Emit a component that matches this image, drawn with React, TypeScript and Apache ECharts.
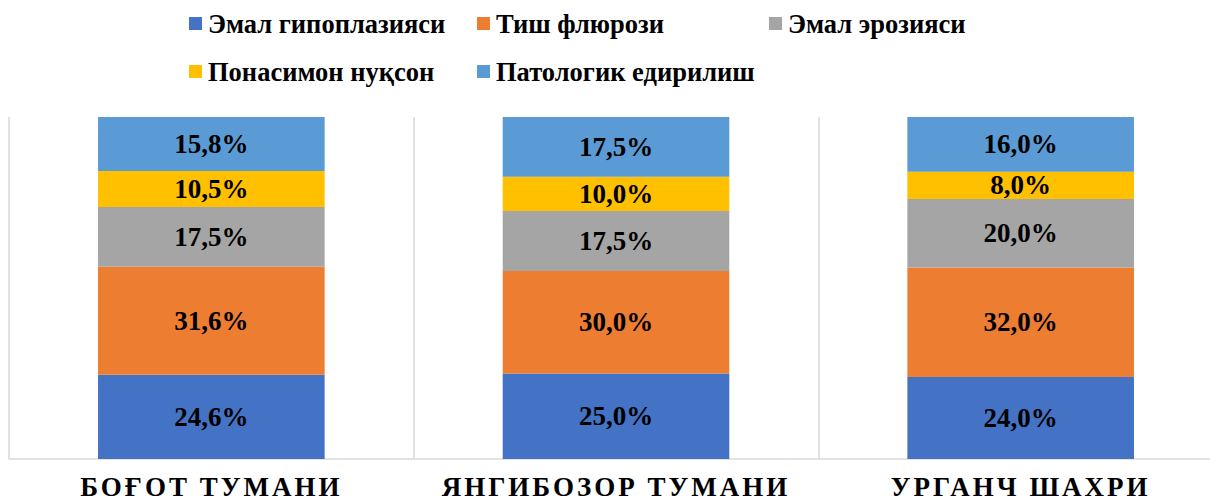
import React, { useEffect, useRef } from "react";
import * as echarts from "echarts";

const categories = ["БОҒОТ ТУМАНИ", "ЯНГИБОЗОР ТУМАНИ", "УРГАНЧ ШАХРИ"];
const seriesNames = [
  "Эмал гипоплазияси",
  "Тиш флюрози",
  "Эмал эрозияси",
  "Понасимон нуқсон",
  "Патологик едирилиш",
];
const hypoplasia = [24.6, 25.0, 24.0];
const fluorosis = [31.6, 30.0, 32.0];
const erosion = [17.5, 17.5, 20.0];
const wedgeDefect = [10.5, 10.0, 8.0];
const pathAbrasion = [15.8, 17.5, 16.0];
const seriesValues = [hypoplasia, fluorosis, erosion, wedgeDefect, pathAbrasion];
const colors = ["#4472C4", "#ED7D31", "#A5A5A5", "#FFC000", "#5B9BD5"];

const FONT = "'Liberation Serif', 'Times New Roman', serif";

export default function App() {
  const ref = useRef<HTMLDivElement>(null);
  useEffect(() => {
    if (!ref.current) return;
    const chart = echarts.init(ref.current, undefined, { renderer: "svg" });
    const legendPos = [
      { left: 189, top: 10 },
      { left: 477, top: 10 },
      { left: 769, top: 10 },
      { left: 189, top: 58 },
      { left: 477, top: 58 },
    ];
    const option: any = {
      animation: false,
      color: colors,
      legend: seriesNames.map((n, i) => ({
        data: [n],
        left: legendPos[i].left,
        top: legendPos[i].top,
        icon: "rect",
        itemWidth: 13,
        itemHeight: 13,
        padding: 0,
        textStyle: {
          fontFamily: FONT,
          fontWeight: "bold",
          fontSize: 26.5,
          color: "#000",
          padding: [0, 0, 0, 1],
        },
      })),
      grid: {
        left: 9,
        top: 117,
        right: -13,
        bottom: 43,
        containLabel: false,
        outerBoundsMode: "none",
      },
      xAxis: {
        type: "category",
        data: categories,
        axisLine: { show: true, lineStyle: { color: "#d9d9d9", width: 1.5 } },
        axisTick: { show: false },
        splitLine: { show: true, lineStyle: { color: "#d9d9d9", width: 1.5 } },
        axisLabel: {
          fontFamily: FONT,
          fontWeight: "bold",
          fontSize: 27,
          color: "#000",
          margin: 14,
          interval: 0,
        },
      },
      yAxis: {
        type: "value",
        min: 0,
        max: 100,
        show: false,
        splitLine: { show: false },
      },
      series: seriesNames.map((n, i) => ({
        name: n,
        type: "bar",
        stack: "total",
        barWidth: "56%",
        data: seriesValues[i],
        itemStyle: { color: colors[i] },
        label: {
          show: true,
          position: "inside",
          fontFamily: FONT,
          fontWeight: "bold",
          fontSize: 27,
          color: "#000",
          formatter: (p: any) => Number(p.value).toFixed(1).replace(".", ",") + "%",
        },
      })),
    };
    chart.setOption(option);
    const spaceLabels = () => {
      if (!ref.current) return;
      const texts = ref.current.querySelectorAll("text");
      texts.forEach((t) => {
        if (categories.includes((t.textContent || "").trim())) {
          (t as SVGTextElement).style.letterSpacing = "3px";
        }
      });
    };
    spaceLabels();
    chart.on("finished", spaceLabels);
    const tm = setTimeout(spaceLabels, 50);
    return () => {
      clearTimeout(tm);
      chart.dispose();
    };
  }, []);
  return (
    <div
      ref={ref}
      style={{ position: "fixed", left: 0, top: 0, width: 1210, height: 502, background: "#fff" }}
    />
  );
}
